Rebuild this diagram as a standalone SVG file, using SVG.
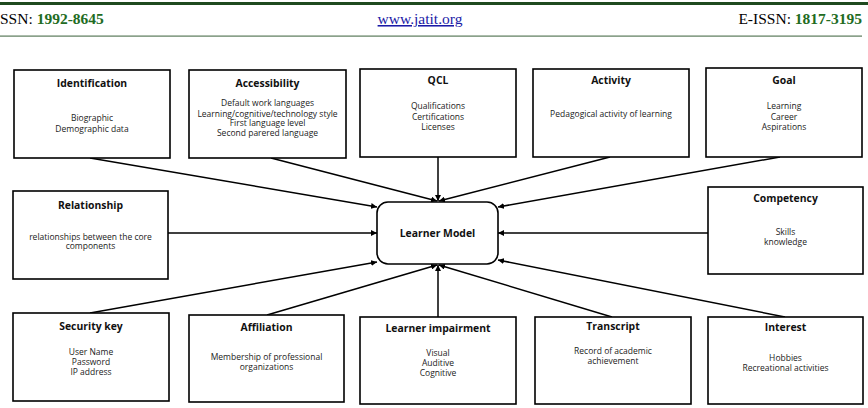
<svg xmlns="http://www.w3.org/2000/svg" width="868" height="408" viewBox="0 0 868 408">
<defs>
<style>
.box{fill:#fff;stroke:#000;stroke-width:1.6}
.t{font-family:"Open Sans","Liberation Sans",sans-serif;font-weight:bold;font-size:10.4px;text-anchor:middle;fill:#111}
.b{font-family:"Open Sans","Liberation Sans",sans-serif;font-size:8.5px;text-anchor:middle;fill:#222}
.c{stroke:#000;stroke-width:1.5;fill:none;marker-end:url(#ah)}
.hdr{font-family:"Liberation Serif","Times New Roman",serif;font-size:15.5px}
.g{fill:#226b22;font-weight:bold}
</style>
<marker id="ah" viewBox="0 0 10 10" refX="10" refY="5" markerWidth="6" markerHeight="6" markerUnits="userSpaceOnUse" orient="auto">
<path d="M0,0 L10,5 L0,10 z" fill="#000"/>
</marker>
</defs>
<rect width="868" height="408" fill="#fff"/>
<g id="header">
<rect x="0" y="2" width="868" height="3" fill="#1f4a1f"/>
<rect x="0" y="35.5" width="862" height="1.2" fill="#5a7a5a"/>
<text class="hdr" x="0" y="24">SSN: <tspan class="g">1992-8645</tspan></text>
<text class="hdr" x="420" y="24" text-anchor="middle" fill="#1a1aa6" text-decoration="underline">www.jatit.org</text>
<text class="hdr" x="862" y="24" text-anchor="end">E-ISSN: <tspan class="g">1817-3195</tspan></text>
</g>
<g id="connectors">
<line class="c" x1="90" y1="158" x2="377" y2="207"/>
<line class="c" x1="271" y1="158" x2="437" y2="201"/>
<line class="c" x1="438" y1="157" x2="438" y2="201"/>
<line class="c" x1="610" y1="157" x2="439" y2="201"/>
<line class="c" x1="780" y1="157" x2="498" y2="207"/>
<line class="c" x1="168" y1="233" x2="377" y2="233"/>
<line class="c" x1="708" y1="233" x2="498" y2="233"/>
<line class="c" x1="90" y1="313" x2="377" y2="262"/>
<line class="c" x1="267" y1="315" x2="437" y2="265"/>
<line class="c" x1="438" y1="317" x2="438" y2="265"/>
<line class="c" x1="612" y1="317" x2="439" y2="265"/>
<line class="c" x1="785" y1="317" x2="498" y2="260"/>
</g>
<g id="identification">
<rect class="box" x="14" y="70" width="156" height="88"/>
<text class="t" x="92" y="87">Identification</text>
<text class="b" x="92" y="121">Biographic</text>
<text class="b" x="92" y="132">Demographic data</text>
</g>
<g id="accessibility">
<rect class="box" x="189" y="70" width="157" height="88"/>
<text class="t" x="267.5" y="87">Accessibility</text>
<text class="b" x="267.5" y="106">Default work  languages</text>
<text class="b" x="267.5" y="116.5">Learning/cognitive/technology style</text>
<text class="b" x="267.5" y="126">First language level</text>
<text class="b" x="267.5" y="136">Second parered language</text>
</g>
<g id="qcl">
<rect class="box" x="360" y="69" width="156" height="88"/>
<text class="t" x="438" y="84">QCL</text>
<text class="b" x="438" y="109">Qualifications</text>
<text class="b" x="438" y="119.5">Certifications</text>
<text class="b" x="438" y="129.5">Licenses</text>
</g>
<g id="activity">
<rect class="box" x="533" y="69" width="156" height="88"/>
<text class="t" x="611" y="84">Activity</text>
<text class="b" x="611" y="117">Pedagogical activity of learning</text>
</g>
<g id="goal">
<rect class="box" x="706" y="68" width="156" height="89"/>
<text class="t" x="784" y="84">Goal</text>
<text class="b" x="784" y="109">Learning</text>
<text class="b" x="784" y="119.5">Career</text>
<text class="b" x="784" y="129.5">Aspirations</text>
</g>
<g id="relationship">
<rect class="box" x="13" y="191" width="155" height="88"/>
<text class="t" x="90.5" y="209">Relationship</text>
<text class="b" x="90.5" y="239.5">relationships between the core</text>
<text class="b" x="90.5" y="249">components</text>
</g>
<g id="learner-model">
<rect class="box" x="377" y="202" width="121" height="62" rx="11" ry="11"/>
<text class="t" x="437.5" y="236.5">Learner Model</text>
</g>
<g id="competency">
<rect class="box" x="708" y="187" width="155" height="87"/>
<text class="t" x="785.5" y="202">Competency</text>
<text class="b" x="785.5" y="234.5">Skills</text>
<text class="b" x="785.5" y="244.5">knowledge</text>
</g>
<g id="security-key">
<rect class="box" x="13" y="313" width="156" height="88"/>
<text class="t" x="91" y="330">Security key</text>
<text class="b" x="91" y="354.5">User Name</text>
<text class="b" x="91" y="364.5">Password</text>
<text class="b" x="91" y="374.5">IP address</text>
</g>
<g id="affiliation">
<rect class="box" x="189" y="315" width="155" height="87"/>
<text class="t" x="266.5" y="331">Affiliation</text>
<text class="b" x="266.5" y="360">Membership of professional</text>
<text class="b" x="266.5" y="369.5">organizations</text>
</g>
<g id="learner-impairment">
<rect class="box" x="360" y="317" width="156" height="87"/>
<text class="t" x="438" y="332">Learner impairment</text>
<text class="b" x="438" y="356">Visual</text>
<text class="b" x="438" y="366">Auditive</text>
<text class="b" x="438" y="376">Cognitive</text>
</g>
<g id="transcript">
<rect class="box" x="535" y="317" width="156" height="87"/>
<text class="t" x="613" y="330">Transcript</text>
<text class="b" x="613" y="353.5">Record of  academic</text>
<text class="b" x="613" y="363.5">achievement</text>
</g>
<g id="interest">
<rect class="box" x="708" y="317" width="155" height="87"/>
<text class="t" x="785.5" y="331">Interest</text>
<text class="b" x="785.5" y="361">Hobbies</text>
<text class="b" x="785.5" y="371">Recreational activities</text>
</g>
</svg>
